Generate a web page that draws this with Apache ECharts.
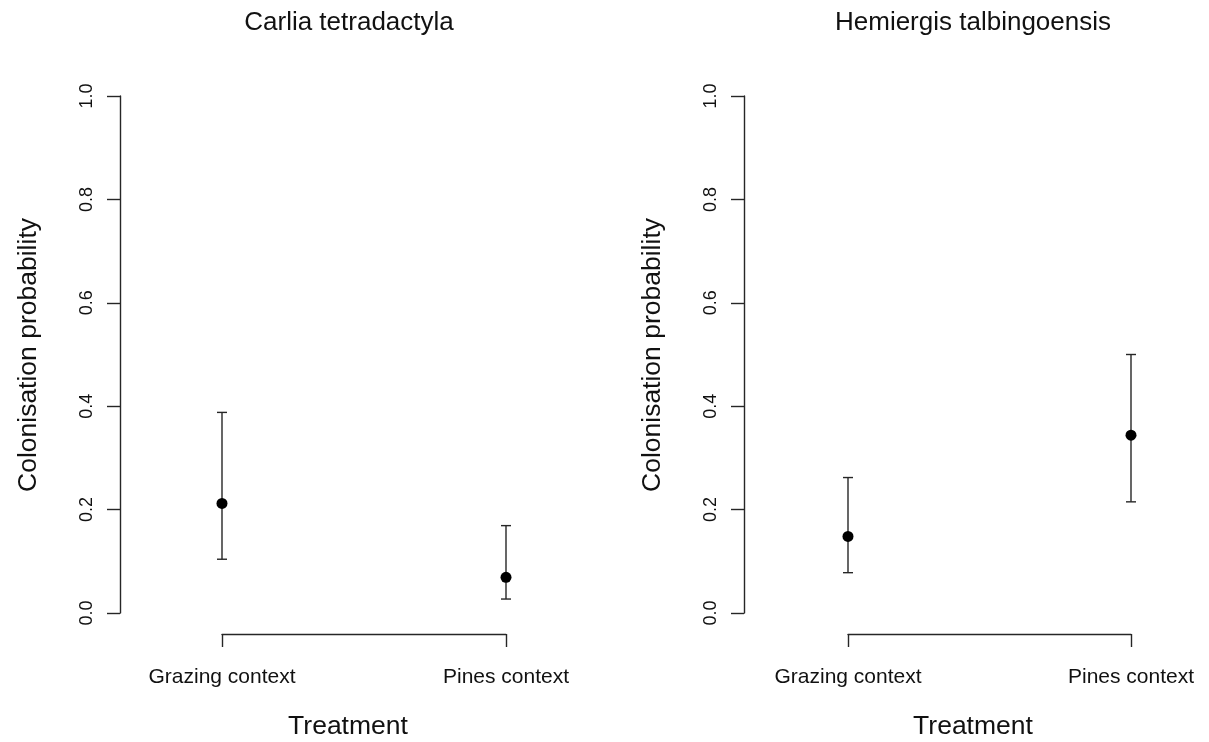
<!DOCTYPE html>
<html>
<head>
<meta charset="utf-8">
<script src="https://cdn.jsdelivr.net/npm/echarts@6/dist/echarts.min.js"></script>
<style>
  html, body { margin: 0; padding: 0; background: #fff; }
  #chart { width: 1209px; height: 742px; }
</style>
</head>
<body>
<div id="chart"></div>
<script>
const categories = ['Grazing context', 'Pines context']
const panelTitles = ['Carlia tetradactyla', 'Hemiergis talbingoensis']
const yTicks = [0, 0.2, 0.4, 0.6, 0.8, 1.0]

// Carlia tetradactyla
const carliaEst = [0.212, 0.069]
const carliaLow = [0.104, 0.027]
const carliaHigh = [0.388, 0.169]

// Hemiergis talbingoensis
const hemiEst = [0.148, 0.344]
const hemiLow = [0.078, 0.215]
const hemiHigh = [0.262, 0.500]

const FONT = '"Liberation Sans", Arial, sans-serif'
const INK = '#262626'

const chart = echarts.init(document.getElementById('chart'), null, { renderer: 'canvas' })

const renderErrorBar = (params, api) => {
  const x = api.value(0)
  const top = api.coord([x, api.value(2)])
  const bot = api.coord([x, api.value(1)])
  const w = 5
  const style = { stroke: INK, lineWidth: 1.4 }
  return {
    type: 'group',
    children: [
      { type: 'line', shape: { x1: top[0], y1: top[1], x2: bot[0], y2: bot[1] }, style },
      { type: 'line', shape: { x1: top[0] - w, y1: top[1], x2: top[0] + w, y2: top[1] }, style },
      { type: 'line', shape: { x1: bot[0] - w, y1: bot[1], x2: bot[0] + w, y2: bot[1] }, style }
    ]
  }
}

const makeX = (idx) => ({
  type: 'value',
  gridIndex: idx,
  min: 1,
  max: 2,
  interval: 1,
  offset: 21,
  axisLine: { show: true, onZero: false, lineStyle: { color: INK, width: 1.4 } },
  axisTick: { show: true, length: 13, lineStyle: { color: INK, width: 1.4 } },
  axisLabel: {
    color: '#111',
    fontFamily: FONT,
    fontSize: 21,
    margin: 33,
    formatter: (v) => categories[Math.round(v) - 1] || ''
  },
  splitLine: { show: false }
})

const makeY = (idx, offset) => ({
  type: 'value',
  gridIndex: idx,
  min: 0,
  max: 1,
  interval: 0.2,
  offset: offset,
  axisLine: { show: true, onZero: false, lineStyle: { color: INK, width: 1.4 } },
  axisTick: { show: true, length: 13, lineStyle: { color: INK, width: 1.4 } },
  axisLabel: {
    color: '#111',
    fontFamily: FONT,
    fontSize: 18,
    rotate: 90,
    margin: 24,
    formatter: (v) => v.toFixed(1)
  },
  splitLine: { show: false }
})

const panel = (idx, est, low, high) => [
  {
    type: 'custom',
    xAxisIndex: idx,
    yAxisIndex: idx,
    renderItem: renderErrorBar,
    data: categories.map((c, i) => [i + 1, low[i], high[i]]),
    clip: false,
    z: 2
  },
  {
    type: 'scatter',
    xAxisIndex: idx,
    yAxisIndex: idx,
    symbol: 'circle',
    symbolSize: 11,
    itemStyle: { color: '#000', opacity: 1 },
    data: categories.map((c, i) => [i + 1, est[i]]),
    clip: false,
    z: 3
  }
]

const textEl = (text, x, y, size, rot) => ({
  type: 'text',
  x: x,
  y: y,
  rotation: rot || 0,
  style: {
    text: text,
    font: `${size}px ${FONT}`,
    fill: '#111',
    textAlign: 'center',
    textVerticalAlign: 'middle'
  }
})

const option = {
  backgroundColor: '#fff',
  animation: false,
  grid: [
    { left: 222, right: 703, top: 96, bottom: 129 },
    { left: 848, right: 78, top: 96, bottom: 129 }
  ],
  xAxis: [makeX(0), makeX(1)],
  yAxis: [makeY(0, 102), makeY(1, 104)],
  series: [...panel(0, carliaEst, carliaLow, carliaHigh), ...panel(1, hemiEst, hemiLow, hemiHigh)],
  graphic: [
    textEl(panelTitles[0], 349, 23, 26),
    textEl(panelTitles[1], 973, 23, 26),
    textEl('Treatment', 348, 727, 26.5),
    textEl('Treatment', 973, 727, 26.5),
    textEl('Colonisation probability', 29, 355, 26.5, Math.PI / 2),
    textEl('Colonisation probability', 653, 355, 26.5, Math.PI / 2)
  ]
}

chart.setOption(option)
window.addEventListener('resize', () => chart.resize())
</script>
</body>
</html>
